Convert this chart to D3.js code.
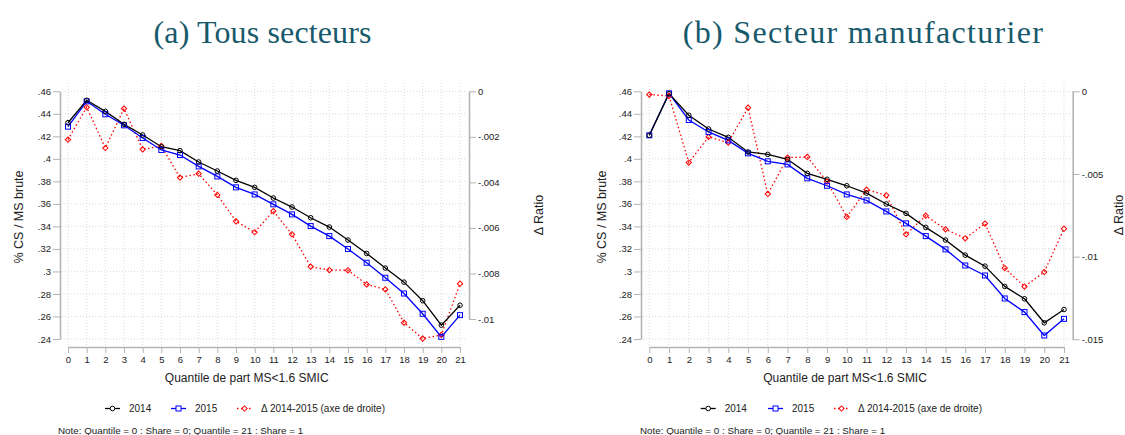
<!DOCTYPE html>
<html>
<head>
<meta charset="utf-8">
<script src="https://cdn.jsdelivr.net/npm/d3@7"></script>
<style>
  body { margin: 0; background: #fff; }
  svg { display: block; font-family: "Liberation Sans", Arial, sans-serif; }
</style>
</head>
<body>
<div id="plot"></div>
<script>
// quantiles on the x axis
const quantiles = [0,1,2,3,4,5,6,7,8,9,10,11,12,13,14,15,16,17,18,19,20,21];

// (a) all sectors
const allY2014 = [.4321,.4520,.4422,.4307,.4212,.4108,.4073,.3972,.3892,.3809,.3747,.3652,
                  .3572,.3477,.3394,.3279,.3160,.3030,.2905,.2740,.2523,.2700];
const allY2015 = [.4286,.4511,.4396,.4298,.4185,.4079,.4034,.3933,.3844,.3747,.3684,.3596,
                  .3507,.3403,.3314,.3199,.3077,.2944,.2804,.2624,.2419,.2612];
const allDelta = [-.00212,-.00070,-.00249,-.00076,-.00255,-.00240,-.00379,-.00362,-.00455,-.00571,-.00619,-.00526,
                  -.00628,-.00770,-.00785,-.00786,-.00848,-.00870,-.01016,-.01086,-.01070,-.00845];

// (b) manufacturing
const manY2014 = [.4209,.4579,.4387,.4265,.4191,.4061,.4040,.3996,.3871,.3818,.3761,.3696,
                  .3599,.3516,.3391,.3279,.3145,.3047,.2867,.2757,.2544,.2662];
const manY2015 = [.4209,.4582,.4345,.4239,.4164,.4049,.3978,.3951,.3827,.3761,.3684,.3631,
                  .3533,.3427,.3314,.3196,.3053,.2964,.2760,.2639,.2431,.2579];
const manDelta = [-.00020,-.00028,-.00431,-.00276,-.00310,-.00099,-.00621,-.00401,-.00397,-.00546,-.00760,-.00595,
                  -.00629,-.00865,-.00752,-.00835,-.00889,-.00800,-.01069,-.01181,-.01093,-.00831];

// tick values
const leftTicks = [.24,.26,.28,.3,.32,.34,.36,.38,.4,.42,.44,.46];
const rightTicksA = [-.01,-.008,-.006,-.004,-.002,0];
const rightTicksB = [-.015,-.01,-.005,0];

const titles = ["(a) Tous secteurs", "(b) Secteur manufacturier"];
const seriesNames = ["2014", "2015", "\u0394 2014-2015 (axe de droite)"];
const xTitle = "Quantile de part MS<1.6 SMIC";
const yTitle = "% CS / MS brute";
const y2Title = "\u0394 Ratio";
const noteText = "Note: Quantile = 0 : Share = 0; Quantile = 21 : Share = 1";

const W = 1125, H = 435;
const svg = d3.select("#plot").append("svg").attr("width", W).attr("height", H);

const fmt = d => {
  if (d === 0) return "0";
  return String(+d.toFixed(4)).replace(/^0\./, ".").replace(/^-0\./, "-.");
};

const axisColor = "#b4b4b4";
const gridColor = "#d0d0d0";
const textColor = "#222";

function drawPanel(p) {
  const g = svg.append("g");
  const x = d3.scaleLinear().domain([0, 21]).range([p.x0, p.x1]);
  const y = d3.scaleLinear().domain([.24, .46]).range([339, 91.3]);
  const y2 = d3.scaleLinear().domain([p.r0, 0]).range([p.r0px, 91.3]);

  // title
  g.append("text")
    .attr("x", p.titleX).attr("y", 42.5)
    .attr("text-anchor", "middle")
    .attr("textLength", p.titleW).attr("lengthAdjust", "spacing")
    .style("font-family", "'Liberation Serif', 'Times New Roman', serif")
    .style("font-size", "32px")
    .attr("fill", "#175a6c")
    .text(p.title);

  // grid
  g.append("g").selectAll("line").data(leftTicks).join("line")
    .attr("x1", p.axL + 2).attr("x2", p.axR - 2)
    .attr("y1", d => y(d)).attr("y2", d => y(d))
    .attr("stroke", gridColor).attr("stroke-width", 0.8)
    .attr("stroke-dasharray", "1,2");
  g.append("g").selectAll("line").data(quantiles).join("line")
    .attr("x1", d => x(d)).attr("x2", d => x(d))
    .attr("y1", 83).attr("y2", 345)
    .attr("stroke", gridColor).attr("stroke-width", 0.8)
    .attr("stroke-dasharray", "1,2");

  // axes
  const styleAxis = sel => {
    sel.select(".domain").attr("stroke", axisColor).attr("stroke-width", 1.6);
    sel.selectAll(".tick line").attr("stroke", axisColor).attr("stroke-width", 1);
    sel.selectAll(".tick text").attr("fill", textColor).style("font-size", "9.5px");
  };

  g.append("g").attr("transform", `translate(0,347)`)
    .call(d3.axisBottom(x).tickValues(quantiles).tickFormat(d3.format("d")).tickSize(6).tickSizeOuter(0).tickPadding(3))
    .call(styleAxis);

  g.append("g").attr("transform", `translate(${p.axL},0)`)
    .call(d3.axisLeft(y).tickValues(leftTicks).tickFormat(fmt).tickSize(7).tickSizeOuter(0).tickPadding(2))
    .call(styleAxis);

  g.append("g").attr("transform", `translate(${p.axR},0)`)
    .call(d3.axisRight(y2).tickValues(p.rTicks).tickFormat(fmt).tickSize(7).tickSizeOuter(0).tickPadding(2))
    .call(styleAxis);

  // axis titles
  g.append("text")
    .attr("x", p.xTitleX).attr("y", 382)
    .attr("text-anchor", "middle")
    .attr("fill", textColor).style("font-size", "12px")
    .text(xTitle);
  g.append("text")
    .attr("transform", `translate(${p.yTitleX},217) rotate(-90)`)
    .attr("text-anchor", "middle")
    .attr("fill", textColor).style("font-size", "12.5px")
    .text(yTitle);
  g.append("text")
    .attr("transform", `translate(${p.y2TitleX},215) rotate(-90)`)
    .attr("text-anchor", "middle")
    .attr("fill", textColor).style("font-size", "12.5px")
    .text(y2Title);

  // series
  const lineLeft = d3.line().x((d, i) => x(quantiles[i])).y(d => y(d));
  const lineRight = d3.line().x((d, i) => x(quantiles[i])).y(d => y2(d));

  g.append("path").datum(p.delta)
    .attr("d", lineRight).attr("fill", "none")
    .attr("stroke", "#ff0000").attr("stroke-width", 1.3)
    .attr("stroke-dasharray", "1.5,2.5");
  g.append("path").datum(p.y2015)
    .attr("d", lineLeft).attr("fill", "none")
    .attr("stroke", "#0000ff").attr("stroke-width", 1.3);
  g.append("path").datum(p.y2014)
    .attr("d", lineLeft).attr("fill", "none")
    .attr("stroke", "#000").attr("stroke-width", 1.3);

  const diamond = d3.symbol().type(d3.symbolSquare).size(14);
  g.append("g").selectAll("path").data(p.delta).join("path")
    .attr("d", diamond)
    .attr("transform", (d, i) => `translate(${x(quantiles[i])},${y2(d)}) rotate(45)`)
    .attr("fill", "none").attr("stroke", "#ff0000").attr("stroke-width", 1);
  g.append("g").selectAll("rect").data(p.y2015).join("rect")
    .attr("x", (d, i) => x(quantiles[i]) - 2.5).attr("y", d => y(d) - 2.5)
    .attr("width", 5).attr("height", 5)
    .attr("fill", "none").attr("stroke", "#0000ff").attr("stroke-width", 1);
  g.append("g").selectAll("circle").data(p.y2014).join("circle")
    .attr("cx", (d, i) => x(quantiles[i])).attr("cy", d => y(d)).attr("r", 2.3)
    .attr("fill", "none").attr("stroke", "#000").attr("stroke-width", 1);

  // legend
  const colors = ["#000", "#0000ff", "#ff0000"];
  const lg = g.append("g").attr("transform", "translate(0,408.5)");
  p.legendX.forEach((lx, k) => {
    lg.append("line").attr("x1", lx).attr("x2", lx + 15).attr("y1", 0).attr("y2", 0)
      .attr("stroke", colors[k]).attr("stroke-width", 1.3)
      .attr("stroke-dasharray", k === 2 ? "1.5,2.5" : null);
    const mx = lx + 7.5;
    if (k === 0) lg.append("circle").attr("cx", mx).attr("cy", 0).attr("r", 2.3)
      .attr("fill", "#fff").attr("stroke", colors[k]);
    if (k === 1) lg.append("rect").attr("x", mx - 2.5).attr("y", -2.5).attr("width", 5).attr("height", 5)
      .attr("fill", "#fff").attr("stroke", colors[k]);
    if (k === 2) lg.append("path").attr("d", diamond)
      .attr("transform", `translate(${mx},0) rotate(45)`)
      .attr("fill", "#fff").attr("stroke", colors[k]);
    lg.append("text").attr("x", lx + 24).attr("y", 3.5)
      .attr("fill", textColor).style("font-size", "10px")
      .text(seriesNames[k]);
  });

  g.append("text")
    .attr("x", p.noteX).attr("y", 433.5)
    .attr("fill", textColor).style("font-size", "9.8px")
    .text(noteText);
}

drawPanel({
  title: titles[0], titleX: 262.5, titleW: 218,
  x0: 68, x1: 460, axL: 60, axR: 469,
  r0: -.01, r0px: 319, rTicks: rightTicksA,
  y2014: allY2014, y2015: allY2015, delta: allDelta,
  xTitleX: 246.7, yTitleX: 23, y2TitleX: 543,
  legendX: [105, 171, 237], noteX: 58
});

drawPanel({
  title: titles[1], titleX: 862.8, titleW: 360,
  x0: 649.3, x1: 1064, axL: 641, axR: 1072.7,
  r0: -.015, r0px: 339.3, rTicks: rightTicksB,
  y2014: manY2014, y2015: manY2015, delta: manDelta,
  xTitleX: 845, yTitleX: 606, y2TitleX: 1122.5,
  legendX: [700.7, 768, 834], noteX: 640
});
</script>
</body>
</html>
